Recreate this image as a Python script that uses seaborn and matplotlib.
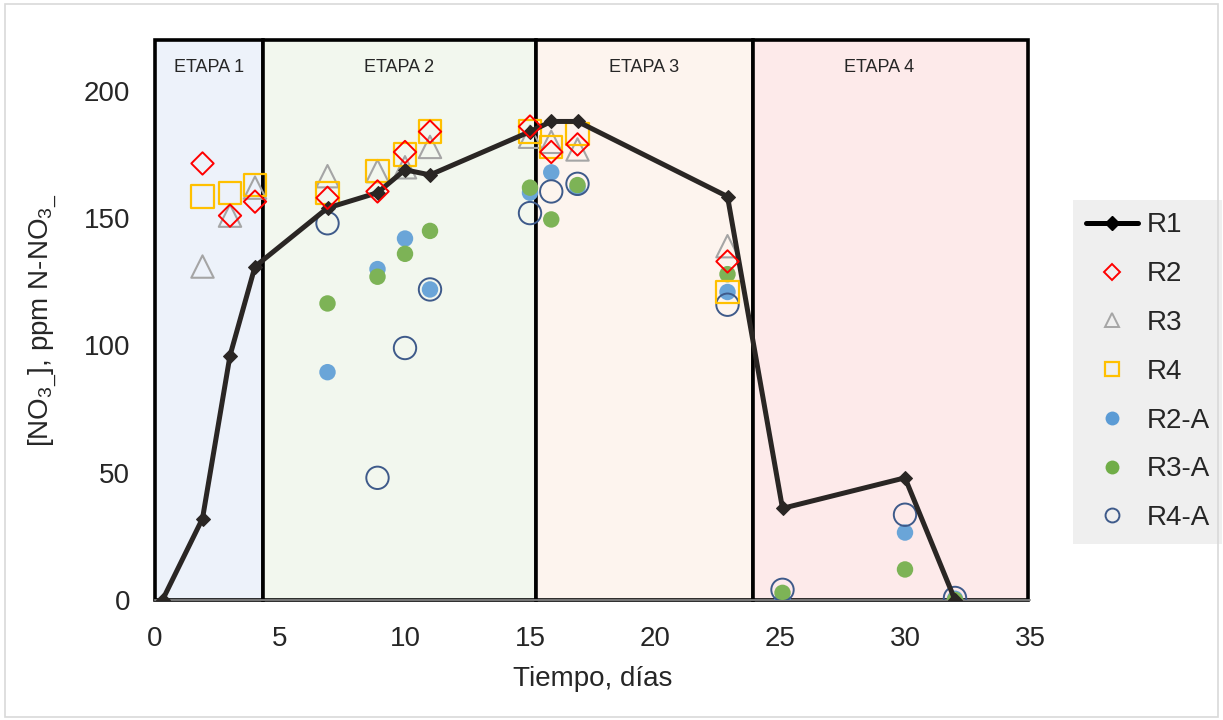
import numpy as np
import pandas as pd
import seaborn as sns
import matplotlib
matplotlib.use('Agg')
from matplotlib import pyplot as plt
from matplotlib.lines import Line2D
from matplotlib.patches import Rectangle

# --- data ---
r1_dias = [0.3, 1.9, 3.0, 4.0, 6.9, 8.9, 10.0, 11.0, 15.0, 15.85, 16.9, 22.9, 25.1, 30.0, 32.0]
r1_vals = [0, 32, 96, 131, 154, 160, 169, 167, 184, 188, 188, 158.5, 36, 48, 0]

dias_a = [1.9, 3.0, 4.0, 6.9, 8.9, 10.0, 11.0, 15.0, 15.85, 16.9, 22.9]
r2_vals = [171.5, 151, 156.5, 158, 160.5, 176, 184, 186, 176, 179, 133]
r3_vals = [131, 151, 162, 166.5, 168.5, 170, 178, 182, 180, 177, 139]
r4_vals = [158.5, 160, 163, 160, 168.5, 175, 184, 184, 178, 183, 121]

dias_b = [6.9, 8.9, 10.0, 11.0, 15.0, 15.85, 16.9, 22.9, 25.1, 30.0, 32.0]
r2a_vals = [89.5, 130, 142, 122, 160, 168, 162, 121, 0, 26.5, 0.5]
r3a_vals = [116.5, 127, 136, 145, 162, 149.5, 163, 128, 2.8, 12, 0]
r4a_vals = [148, 48, 99, 122, 152, 160.5, 163.5, 116, 4, 33.5, 0.8]

etapas = ['ETAPA 1', 'ETAPA 2', 'ETAPA 3', 'ETAPA 4']
etapa_lims = [(0, 4.3), (4.3, 15.25), (15.25, 23.9), (23.9, 34.9)]
etapa_cols = ['#EDF2FA', '#F2F7EE', '#FDF4EE', '#FDEAEA']

sns.set_style('white')
plt.rcParams['font.family'] = ['Liberation Sans', 'DejaVu Sans']
plt.rcParams['mathtext.fontset'] = 'custom'
plt.rcParams['mathtext.rm'] = 'Liberation Sans'
plt.rcParams['mathtext.it'] = 'Liberation Sans'

fig = plt.figure(figsize=(12.23, 7.2), dpi=100)
ax = fig.add_axes([155/1223, 120/720, 875/1223, 560/720])

for name, (a, b), c in zip(etapas, etapa_lims, etapa_cols):
    ax.add_patch(Rectangle((a, 0), b - a, 220, facecolor=c, edgecolor='black',
                           linewidth=2.6, zorder=0.5, clip_on=False))
    ax.text((a + b) / 2 - (0.45 if name == 'ETAPA 4' else 0), 209, name,
            ha='center', va='center', fontsize=13)

df_a = pd.DataFrame({'dia': dias_a, 'R2': r2_vals, 'R3': r3_vals, 'R4': r4_vals})
df_b = pd.DataFrame({'dia': dias_b, 'R2-A': r2a_vals, 'R3-A': r3a_vals, 'R4-A': r4a_vals})
df_1 = pd.DataFrame({'dia': r1_dias, 'R1': r1_vals})

sns.scatterplot(data=df_b, x='dia', y='R2-A', ax=ax, marker='o', s=140, color='#6AA5D8',
                edgecolor='none', zorder=3)
sns.scatterplot(data=df_b, x='dia', y='R3-A', ax=ax, marker='o', s=140, color='#7DB356',
                edgecolor='none', zorder=3)
sns.scatterplot(data=df_b, x='dia', y='R4-A', ax=ax, marker='o', s=260, facecolor='none',
                edgecolor='#3E5A8A', linewidth=1.4, zorder=3)
sns.scatterplot(data=df_a, x='dia', y='R3', ax=ax, marker='^', s=260, facecolor='none',
                edgecolor='#A5A5A5', linewidth=1.5, zorder=4)
sns.scatterplot(data=df_a, x='dia', y='R4', ax=ax, marker='s', s=260, facecolor='none',
                edgecolor='#FFC000', linewidth=1.6, zorder=4)
sns.lineplot(data=df_1, x='dia', y='R1', ax=ax, color='#2A2624', linewidth=3.6,
             marker='D', markersize=7.5, markeredgecolor='#2A2624', zorder=5)
sns.scatterplot(data=df_a, x='dia', y='R2', ax=ax, marker='D', s=130, facecolor='none',
                edgecolor='#FF0000', linewidth=1.4, zorder=6)

ax.set_xlim(0, 35)
ax.set_ylim(0, 220)
ax.set_xticks(range(0, 36, 5))
ax.set_yticks(range(0, 201, 50))
ax.tick_params(axis='x', labelsize=20, length=0, pad=19)
ax.tick_params(axis='y', labelsize=20, length=0, pad=18)
for s in ['top', 'right', 'left']:
    ax.spines[s].set_visible(False)
ax.spines['bottom'].set_color('#8C8C8C')
ax.spines['bottom'].set_linewidth(1.2)
ax.patch.set_alpha(0)

ax.set_xlabel('Tiempo, días', fontsize=20, labelpad=10)
ax.set_ylabel(r'[NO$_{3}$$_{\_}$], ppm N-NO$_{3}$$_{\_}$', fontsize=20)
ax.yaxis.label.set_va('center')
ax.yaxis.set_label_coords(-0.128, 0.5)

handles = [
    Line2D([], [], color='black', linewidth=3.6, marker='D', markersize=7.5, label='R1'),
    Line2D([], [], linestyle='none', marker='D', markersize=8, markerfacecolor='none',
           markeredgecolor='#FF0000', markeredgewidth=1.4, label='R2'),
    Line2D([], [], linestyle='none', marker='^', markersize=10, markerfacecolor='none',
           markeredgecolor='#A5A5A5', markeredgewidth=1.4, label='R3'),
    Line2D([], [], linestyle='none', marker='s', markersize=10, markerfacecolor='none',
           markeredgecolor='#FFC000', markeredgewidth=1.6, label='R4'),
    Line2D([], [], linestyle='none', marker='o', markersize=10, markerfacecolor='#5B9BD5',
           markeredgecolor='none', label='R2-A'),
    Line2D([], [], linestyle='none', marker='o', markersize=10, markerfacecolor='#70AD47',
           markeredgecolor='none', label='R3-A'),
    Line2D([], [], linestyle='none', marker='o', markersize=10, markerfacecolor='none',
           markeredgecolor='#3E5A8A', markeredgewidth=1.4, label='R4-A'),
]
leg = ax.legend(handles=handles, loc='upper left', bbox_to_anchor=(1073/1223, 520/720),
                bbox_transform=fig.transFigure, borderaxespad=0, frameon=True, fontsize=20,
                handlelength=1.9, labelspacing=0.82, borderpad=0.45, handletextpad=0.3)
leg.get_frame().set_facecolor('#EFEFEF')
leg.get_frame().set_edgecolor('none')
leg.get_frame().set_alpha(1)
leg.get_frame().set_boxstyle('square', pad=0)

fig.patches.append(Rectangle((0.004, 0.004), 0.992, 0.99, transform=fig.transFigure,
                             fill=False, edgecolor='#D9D9D9', linewidth=1.2))

fig.savefig('out.png', dpi=100)
